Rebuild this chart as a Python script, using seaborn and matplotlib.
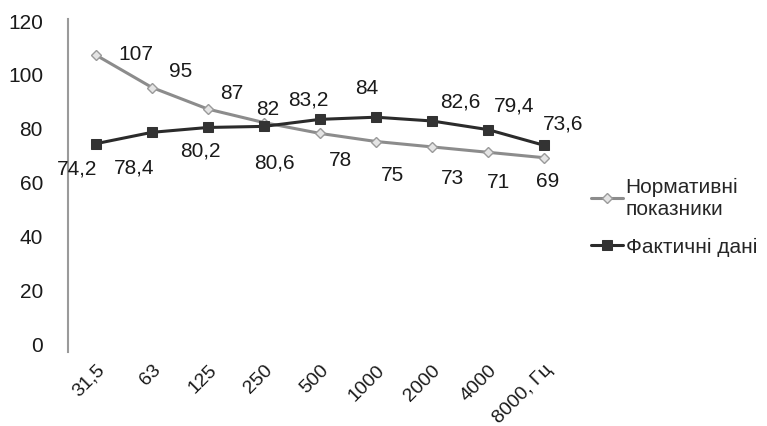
import matplotlib
matplotlib.use("Agg")
import matplotlib.pyplot as plt
import seaborn as sns
import pandas as pd

categories = ["31,5", "63", "125", "250", "500", "1000", "2000", "4000", "8000, Гц"]
normative = [107, 95, 87, 82, 78, 75, 73, 71, 69]
actual = [74.2, 78.4, 80.2, 80.6, 83.2, 84, 82.6, 79.4, 73.6]
series_names = ["Нормативні\nпоказники", "Фактичні дані"]

# label offsets in pixels (style, not data)
norm_off = [(40, 2), (29, 17), (24, 17), (4, 14), (20, -26), (16, -33), (20, -31), (10, -29), (4, -23)]
act_off = [(-19, -24), (-18, -35), (-8, -23), (10, -36), (-12, 20), (-9, 30), (28, 20), (26, 25), (19, 22)]

sns.set_style("white")
plt.rcParams['font.family'] = ['Liberation Sans', 'DejaVu Sans']

fig = plt.figure(figsize=(7.67, 4.27), dpi=100)
ax = fig.add_axes([68/767, 1-345/427, (572-68)/767, (345-21)/427])

df_n = pd.DataFrame({"x": categories, "y": normative})
df_a = pd.DataFrame({"x": categories, "y": actual})

sns.lineplot(data=df_n, x="x", y="y", ax=ax, color="#8c8c8c", lw=2.2,
             marker="D", markersize=5.5, markerfacecolor="#e4e4e4",
             markeredgecolor="#9a9a9a", markeredgewidth=1.0,
             label=series_names[0], sort=False)
sns.lineplot(data=df_a, x="x", y="y", ax=ax, color="#2b2b2b", lw=2.2,
             marker="s", markersize=7.5, markerfacecolor="#333333",
             markeredgecolor="#333333", label=series_names[1], sort=False)

def fmt(v):
    return ("%g" % v).replace(".", ",")

for i, v in enumerate(normative):
    ax.annotate(fmt(v), (i, v), xytext=norm_off[i], textcoords="offset pixels",
                ha="center", va="center", fontsize=15, color="#1a1a1a")
for i, v in enumerate(actual):
    ax.annotate(fmt(v), (i, v), xytext=act_off[i], textcoords="offset pixels",
                ha="center", va="center", fontsize=15, color="#1a1a1a")

ax.set_xlim(-0.5, len(categories) - 0.5)
ax.set_ylim(0, 120)
ax.set_yticks(range(0, 121, 20))
ax.set_xlabel("")
ax.set_ylabel("")
for s in ["top", "right", "bottom"]:
    ax.spines[s].set_visible(False)
ax.spines["left"].set_color("#9a9a9a")
ax.spines["left"].set_linewidth(1.5)
ax.spines["left"].set_bounds(-3, 120.5)
ax.tick_params(axis="y", length=0, pad=18, labelsize=15, colors="#1a1a1a")
ax.tick_params(axis="x", length=0, pad=12, labelsize=14, colors="#1a1a1a")
for lab in ax.get_xticklabels():
    lab.set_rotation(45)
    lab.set_ha("right")
    lab.set_va("top")
    lab.set_rotation_mode("anchor")

leg = ax.legend(loc="upper left", bbox_to_anchor=(583/767, 1-170/427),
                bbox_transform=fig.transFigure, frameon=False, fontsize=15,
                handlelength=1.5, handletextpad=0.15, labelspacing=0.9,
                borderaxespad=0)

fig.savefig("out.png", dpi=100)
